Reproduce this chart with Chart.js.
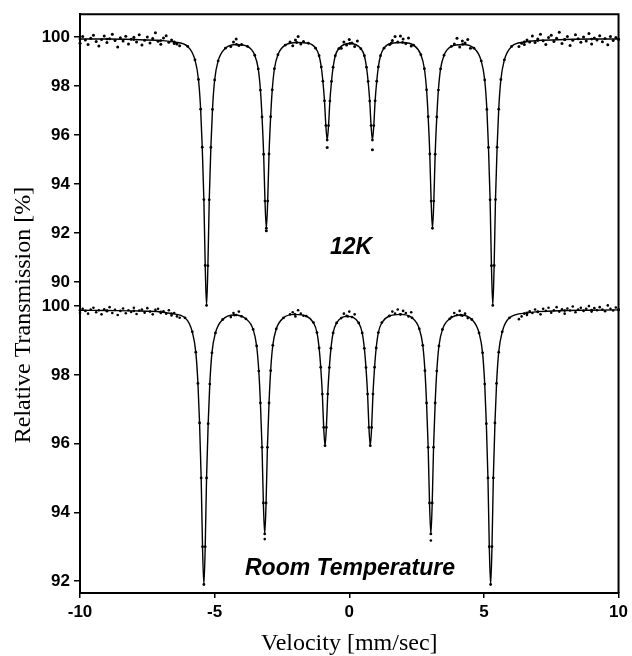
<!DOCTYPE html>
<html>
<head>
<meta charset="utf-8">
<script src="https://cdn.jsdelivr.net/npm/chart.js@4/dist/chart.umd.min.js"></script>
<style>
body{margin:0;background:#fff;}
canvas{display:block;}
</style>
</head>
<body>
<canvas id="moss" width="632" height="656"></canvas>
<script>
// tick labels
const xTicks = [-10, -5, 0, 5, 10];
const topTicks = [90, 92, 94, 96, 98, 100];
const botTicks = [92, 94, 96, 98, 100];

// 12K fitted curve (velocity mm/s, transmission %)
const vel12 = [-10,-9,-8,-7,-6.5,
 -6.00,-5.73,-5.60,-5.52,-5.46,-5.40,-5.35,-5.30,-5.25,-5.20,-5.14,-5.08,-5.00,-4.87,-4.60,-4.19,
 -3.78,-3.51,-3.38,-3.30,-3.24,-3.18,-3.13,-3.08,-3.03,-2.98,-2.92,-2.86,-2.78,-2.65,-2.38,-1.95,
 -1.52,-1.25,-1.12,-1.04,-0.98,-0.92,-0.87,-0.82,-0.77,-0.72,-0.66,-0.60,-0.52,-0.39,0.02,
 0.43,0.56,0.64,0.70,0.76,0.81,0.86,0.91,0.96,1.02,1.08,1.16,1.29,1.56,1.98,
 2.39,2.66,2.79,2.87,2.93,2.99,3.04,3.09,3.14,3.19,3.25,3.31,3.39,3.52,3.79,4.21,
 4.63,4.90,5.03,5.11,5.17,5.23,5.28,5.33,5.38,5.43,5.49,5.55,5.63,5.76,6.03,
 6.5,7,8,9,10];
const fit12 = [99.92,99.92,99.90,99.86,99.80,
 99.62,99.07,98.27,97.06,95.51,93.37,90.68,89.05,90.67,93.36,95.50,97.05,98.25,99.03,99.55,99.70,
 99.62,99.26,98.70,97.84,96.74,95.22,93.31,92.20,93.31,95.23,96.75,97.85,98.71,99.28,99.67,99.78,
 99.75,99.55,99.24,98.78,98.20,97.40,96.39,95.80,96.39,97.39,98.19,98.77,99.24,99.53,99.74,
 99.53,99.24,98.77,98.19,97.39,96.39,95.80,96.39,97.40,98.20,98.78,99.24,99.55,99.75,99.78,
 99.67,99.28,98.71,97.85,96.75,95.23,93.31,92.20,93.31,95.22,96.74,97.84,98.70,99.26,99.62,99.70,
 99.55,99.03,98.25,97.05,95.50,93.36,90.67,89.05,90.68,93.37,95.51,97.06,98.27,99.07,99.62,
 99.80,99.86,99.90,99.92,99.92];

// 12K measured points off the steep flanks
const dotVel12 = [-10.0,-9.9,-9.8,-9.7,-9.6,-9.5,-9.4,-9.3,-9.2,-9.1,-9.0,-8.9,-8.8,-8.7,-8.6,-8.5,-8.4,-8.3,-8.2,-8.1,
 -8.0,-7.9,-7.8,-7.7,-7.6,-7.5,-7.4,-7.3,-7.2,-7.1,-7.0,-6.9,-6.8,-6.7,-6.6,-6.5,-6.4,-6.3,
 -4.4,-4.3,-4.2,-4.1,-4.0,
 -2.2,-2.1,-2.0,-1.9,-1.8,-1.7,
 -0.3,-0.2,-0.1,0.0,0.1,0.2,0.3,
 1.5,1.6,1.7,1.8,1.9,2.0,2.1,2.2,2.3,
 3.9,4.0,4.1,4.2,4.3,4.4,4.5,
 6.3,6.4,6.5,6.6,6.7,6.8,6.9,7.0,7.1,7.2,7.3,7.4,7.5,7.6,7.7,7.8,7.9,8.0,8.1,8.2,
 8.3,8.4,8.5,8.6,8.7,8.8,8.9,9.0,9.1,9.2,9.3,9.4,9.5,9.6,9.7,9.8,9.9,10.0,
 -0.82,0.86,-3.08];
const dot12 = [99.75,100.02,99.88,99.70,99.95,100.08,99.82,99.64,99.90,100.05,99.78,99.93,100.12,99.86,99.60,99.97,99.84,100.04,99.72,99.91,
 99.99,99.80,100.10,99.68,99.87,100.00,99.76,99.94,100.18,99.83,99.71,99.96,100.06,99.79,99.88,99.74,99.72,99.65,
 99.62,99.80,99.92,99.66,99.70,
 99.80,99.65,99.88,100.02,99.72,99.82,
 99.55,99.80,99.68,99.90,99.76,99.62,99.84,
 99.70,99.86,100.02,99.80,100.05,99.92,99.74,99.96,99.64,
 99.72,99.95,99.60,99.84,99.76,99.90,99.55,
 99.62,99.75,99.70,99.88,99.80,100.05,99.78,99.92,100.12,99.85,99.70,99.98,100.08,99.82,99.95,100.20,99.74,99.90,
 100.02,99.66,99.87,100.10,99.93,99.79,100.00,99.84,100.15,99.72,99.96,99.88,100.06,99.81,99.94,99.69,100.03,99.86,99.98,99.90,
 95.50,95.40,92.10];

// Room temperature fitted curve
const velRT = [-10,-9,-8,-7,-6.6,
 -6.10,-5.83,-5.70,-5.62,-5.56,-5.50,-5.45,-5.40,-5.35,-5.30,-5.24,-5.18,-5.10,-4.97,-4.70,-4.27,
 -3.84,-3.57,-3.44,-3.36,-3.30,-3.24,-3.19,-3.14,-3.09,-3.04,-2.98,-2.92,-2.84,-2.71,-2.44,-2.02,
 -1.60,-1.33,-1.20,-1.12,-1.06,-1.00,-0.95,-0.90,-0.85,-0.80,-0.74,-0.68,-0.60,-0.47,-0.06,
 0.35,0.48,0.56,0.62,0.68,0.73,0.78,0.83,0.88,0.94,1.00,1.08,1.21,1.48,1.90,
 2.33,2.60,2.73,2.81,2.87,2.93,2.98,3.03,3.08,3.13,3.19,3.25,3.33,3.46,3.73,4.14,
 4.55,4.82,4.95,5.03,5.09,5.15,5.20,5.25,5.30,5.35,5.41,5.47,5.55,5.68,5.95,
 6.6,7,8,9,10];
const fitRT = [99.88,99.87,99.86,99.83,99.78,
 99.66,99.25,98.66,97.75,96.60,95.00,93.00,91.90,93.00,95.00,96.58,97.73,98.64,99.22,99.61,99.74,
 99.63,99.32,98.84,98.11,97.18,95.89,94.27,93.37,94.27,95.89,97.18,98.12,98.86,99.34,99.66,99.76,
 99.71,99.52,99.23,98.78,98.22,97.44,96.47,95.94,96.47,97.44,98.21,98.77,99.22,99.51,99.70,
 99.51,99.22,98.77,98.21,97.44,96.47,95.94,96.47,97.44,98.22,98.78,99.23,99.52,99.71,99.76,
 99.66,99.34,98.86,98.12,97.18,95.89,94.27,93.37,94.27,95.89,97.18,98.11,98.84,99.32,99.63,99.74,
 99.61,99.22,98.64,97.73,96.58,95.00,93.00,91.90,93.00,95.00,96.60,97.75,98.66,99.25,99.66,
 99.80,99.84,99.87,99.88,99.89];

// Room temperature measured points off the steep flanks
const dotVelRT = [-10.0,-9.9,-9.8,-9.7,-9.6,-9.5,-9.4,-9.3,-9.2,-9.1,-9.0,-8.9,-8.8,-8.7,-8.6,-8.5,-8.4,-8.3,-8.2,-8.1,
 -8.0,-7.9,-7.8,-7.7,-7.6,-7.5,-7.4,-7.3,-7.2,-7.1,-7.0,-6.9,-6.8,-6.7,-6.6,-6.5,-6.4,-6.3,
 -4.4,-4.3,-4.2,-4.1,-4.0,
 -2.2,-2.1,-2.0,-1.9,-1.8,-1.7,
 -0.3,-0.2,-0.1,0.0,0.1,0.2,
 1.5,1.6,1.7,1.8,1.9,2.0,2.1,2.2,2.3,
 3.8,3.9,4.0,4.1,4.2,4.3,4.4,
 6.3,6.4,6.5,6.6,6.7,6.8,6.9,7.0,7.1,7.2,7.3,7.4,7.5,7.6,7.7,7.8,7.9,8.0,8.1,8.2,
 8.3,8.4,8.5,8.6,8.7,8.8,8.9,9.0,9.1,9.2,9.3,9.4,9.5,9.6,9.7,9.8,9.9,10.0,
 -3.14,3.03];
const dotRT = [99.80,99.92,99.86,99.78,99.90,99.95,99.82,99.88,99.76,99.91,99.85,99.97,99.80,99.89,99.74,99.86,99.93,99.79,99.88,99.83,
 99.95,99.77,99.87,99.90,99.81,99.94,99.84,99.76,99.89,99.92,99.80,99.85,99.78,99.88,99.73,99.80,99.70,99.66,
 99.68,99.80,99.74,99.84,99.70,
 99.76,99.82,99.70,99.88,99.78,99.72,
 99.65,99.78,99.72,99.84,99.68,99.76,
 99.72,99.84,99.78,99.90,99.76,99.86,99.80,99.70,99.82,
 99.68,99.80,99.74,99.86,99.72,99.78,99.65,
 99.62,99.70,99.78,99.74,99.85,99.80,99.90,99.83,99.76,99.92,99.86,99.95,99.81,99.88,99.97,99.84,99.91,99.78,
 99.93,99.87,99.99,99.82,99.90,99.95,99.86,99.92,100.00,99.84,99.94,99.88,99.97,99.90,99.85,100.02,99.92,99.87,99.96,99.91,
 93.22,93.18];

function pts(xs, ys){ return xs.map((v,i)=>({x:v, y:ys[i]})); }

const sansB = {family:'"Liberation Sans", Arial, sans-serif', size:17, weight:'bold'};

const labelsPlugin = {
  id:'labels',
  afterDraw(chart){
    const c = chart.ctx, a = chart.chartArea;
    c.save();
    c.strokeStyle='#000'; c.lineWidth=2;
    c.beginPath();
    c.moveTo(a.left, a.top); c.lineTo(a.right, a.top); c.lineTo(a.right, a.bottom);
    c.stroke();
    c.fillStyle='#000';
    c.textAlign='center'; c.textBaseline='middle';
    c.font='italic bold 23px "Liberation Sans", Arial, sans-serif';
    c.fillText('12K', 351, 248);
    c.fillText('Room Temperature', 350, 569);
    c.translate(24, 315);
    c.rotate(-Math.PI/2);
    c.font='24px "Liberation Serif", "Times New Roman", serif';
    c.fillText('Relative Transmission [%]', 0, 0);
    c.restore();
  }
};

// two panels stacked on the left edge
function yAxis(min, max, list, sw, weight){
  return {
    type:'linear', position:'left', min:min, max:max,
    stack:'panels', stackWeight:sw, weight:weight,
    afterBuildTicks: s => { s.ticks = list.map(v=>({value:v})); },
    afterFit: s => { s.width = 80; },
    ticks:{color:'#000', font:sansB, padding:4, autoSkip:false},
    grid:{drawOnChartArea:false, drawTicks:true, tickLength:6, color:'#000', lineWidth:1.5},
    border:{display:true, color:'#000', width:2}
  };
}

new Chart(document.getElementById('moss'), {
  type:'line',
  data:{datasets:[
    {data:pts(vel12, fit12), yAxisID:'yTop', clip:false, borderColor:'#000', borderWidth:1.4,
     pointRadius:1.4, pointBackgroundColor:'#000', pointBorderWidth:0, cubicInterpolationMode:'monotone', fill:false},
    {data:pts(dotVel12, dot12), yAxisID:'yTop', clip:false, showLine:false,
     pointRadius:1.5, pointBackgroundColor:'#000', pointBorderWidth:0},
    {data:pts(velRT, fitRT), yAxisID:'yBot', clip:false, borderColor:'#000', borderWidth:1.4,
     pointRadius:1.4, pointBackgroundColor:'#000', pointBorderWidth:0, cubicInterpolationMode:'monotone', fill:false},
    {data:pts(dotVelRT, dotRT), yAxisID:'yBot', clip:false, showLine:false,
     pointRadius:1.3, pointBackgroundColor:'#000', pointBorderWidth:0}
  ]},
  options:{
    responsive:false, animation:false,
    layout:{padding:{top:12, right:11, left:0, bottom:0}},
    plugins:{legend:{display:false}, tooltip:{enabled:false}},
    scales:{
      x:{type:'linear', min:-10, max:10,
        afterBuildTicks: s => { s.ticks = xTicks.map(v=>({value:v})); },
        afterFit: s => { s.height = 63; },
        ticks:{color:'#000', font:sansB, padding:4},
        grid:{drawOnChartArea:false, drawTicks:true, tickLength:5, color:'#000', lineWidth:1.5},
        border:{display:true, color:'#000', width:2},
        title:{display:true, text:'Velocity [mm/sec]', color:'#000',
          font:{family:'"Liberation Serif", "Times New Roman", serif', size:24, lineHeight:1}, padding:0}
      },
      yTop: yAxis(89.512, 100.935, topTicks, 281, 1),
      yBot: yAxis(91.652, 100.348, botTicks, 300, 0)
    }
  },
  plugins:[labelsPlugin]
});
</script>
</body>
</html>
